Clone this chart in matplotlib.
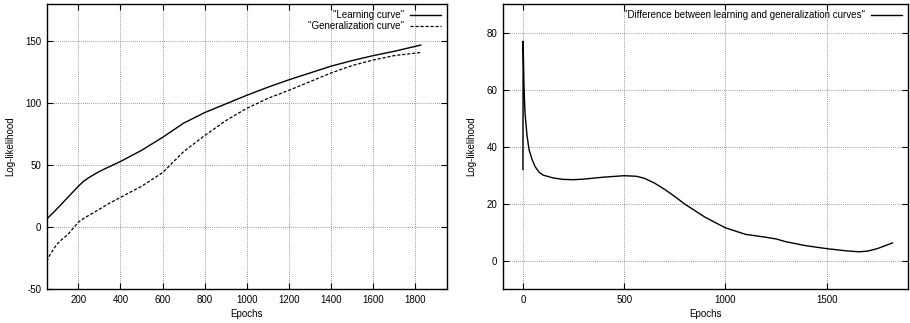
import matplotlib
matplotlib.use("Agg")
import matplotlib.pyplot as plt

plt.rcParams['font.family'] = ['Liberation Sans', 'DejaVu Sans']
plt.rcParams['font.size'] = 7
plt.rcParams['axes.unicode_minus'] = False

# learning / generalization log-likelihood per epoch
epochs = [50, 65, 80, 100, 125, 150, 175, 200, 225, 250, 300, 350, 400, 500,
          600, 700, 800, 900, 1000, 1100, 1200, 1300, 1400, 1500, 1600, 1700,
          1825]
learning = [6.5, 9, 11.5, 15, 19.5, 24, 28.5, 33, 37, 40, 45, 49, 53, 62,
            72.5, 84, 92.5, 99.5, 106.5, 113, 119, 124.5, 130, 134.5, 138.5,
            142, 147]
generalization = [-27.5, -22.5, -18.4, -13.5, -9.5, -6, -1, 4, 7, 9.5, 14.5,
                  19.5, 24, 33, 44, 61, 74, 86, 96, 104, 110.5, 117.5, 124.5,
                  130.5, 135, 138.5, 141]

# difference between the two curves
diff_epochs = [0, 1, 5, 10, 20, 30, 45, 60, 80, 100, 150, 200, 250, 300, 400,
               500, 560, 600, 650, 700, 750, 800, 900, 1000, 1100, 1200, 1250,
               1300, 1400, 1500, 1600, 1660, 1700, 1750, 1825]
diff = [32, 77, 62, 52, 44, 39, 35.5, 33, 31, 30, 29, 28.5, 28.4, 28.6, 29.3,
        29.8, 29.6, 28.9, 27.2, 25, 22.5, 19.8, 15.2, 11.5, 9.2, 8.2, 7.6,
        6.6, 5.2, 4.2, 3.4, 3.1, 3.3, 4.2, 6.2]


def gnuplot_style(ax):
    ax.grid(True, linestyle=(0, (1, 1.5)), color='#777777', linewidth=0.6)
    ax.tick_params(direction='in', top=True, right=True, length=4, width=0.8,
                   pad=4)
    for s in ax.spines.values():
        s.set_linewidth(1.0)
    ax.set_xlabel('Epochs', labelpad=3)
    ax.set_ylabel('Log-likelihood', labelpad=7)


fig = plt.figure(figsize=(9.1, 3.23), dpi=100)

ax1 = fig.add_axes([0.0513, 0.105, 0.44, 0.882])
ax1.plot(epochs, learning, color='black', linewidth=1.0,
         label='"Learning curve"')
ax1.plot(epochs, generalization, color='black', linewidth=0.9,
         linestyle=(0, (2.5, 1.5)), label='"Generalization curve"')
ax1.set_xlim(50, 1950)
ax1.set_ylim(-50, 180)
ax1.set_xticks(range(200, 1801, 200))
ax1.set_yticks(range(-50, 151, 50))
gnuplot_style(ax1)
ax1.legend(loc='upper right', frameon=False, markerfirst=False,
           handlelength=3.2, borderaxespad=0.2, labelspacing=0.1,
           handletextpad=0.6)

ax2 = fig.add_axes([0.5524, 0.105, 0.445, 0.882])
ax2.plot(diff_epochs, diff, color='black', linewidth=1.0,
         label='"Difference between learning and generalization curves"')
ax2.set_xlim(-100, 1900)
ax2.set_ylim(-10, 90)
ax2.set_xticks(range(0, 1501, 500))
ax2.set_yticks(range(0, 81, 20))
gnuplot_style(ax2)
ax2.legend(loc='upper right', frameon=False, markerfirst=False,
           handlelength=3.2, borderaxespad=0.2, handletextpad=0.6)

fig.savefig('out.png', dpi=100)
